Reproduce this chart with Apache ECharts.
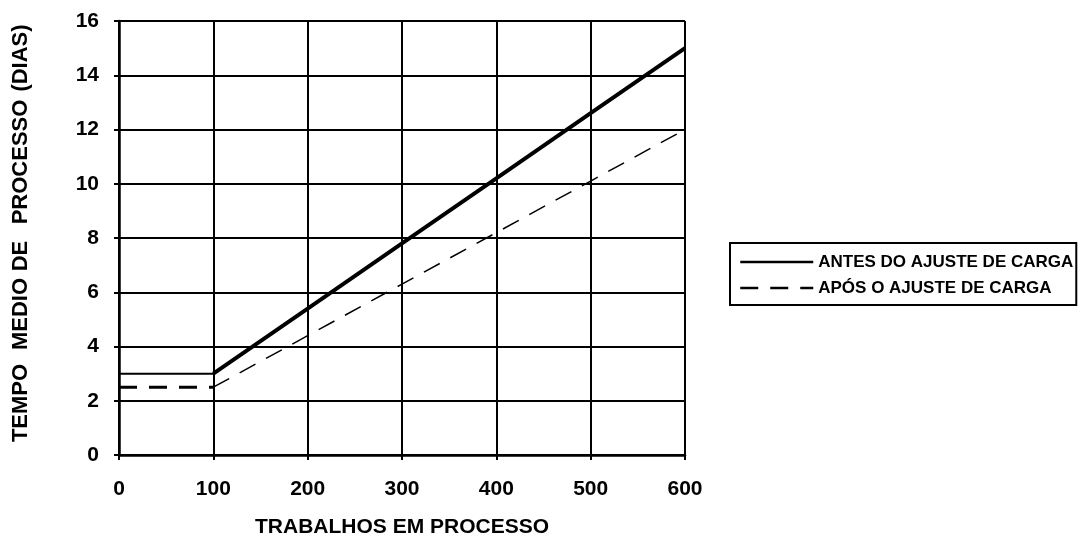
<!DOCTYPE html>
<html>
<head>
<meta charset="utf-8">
<script src="https://cdn.jsdelivr.net/npm/echarts@6/dist/echarts.min.js"></script>
<style>
  html, body { margin: 0; padding: 0; background: #fff; }
  #chart { width: 1081px; height: 541px; }
</style>
</head>
<body>
<div id="chart"></div>
<script>
// Work in process (x) vs. mean processing time in days (y)
const xTicks = [0, 100, 200, 300, 400, 500, 600];
const seriesNames = ['ANTES DO AJUSTE DE CARGA', 'APÓS O AJUSTE DE CARGA'];
// Before load adjustment: flat segment then linear growth
const antesFlat = [[0, 3], [100, 3]];
const antesRise = [[100, 3], [200, 5.4], [300, 7.8], [400, 10.2], [500, 12.6], [600, 15]];
// After load adjustment
const aposFlat = [[0, 2.5], [100, 2.5]];
const aposRise = [[100, 2.5], [200, 4.4], [300, 6.3], [400, 8.2], [500, 10.1], [600, 12]];
// Y-axis title words, drawn bottom to top with their centre positions
const yTitleWords = [['TEMPO', 403], ['MEDIO', 314], ['DE', 256], ['PROCESSO', 162], ['(DIAS)', 58]];
const xTitle = 'TRABALHOS EM PROCESSO';

const chart = echarts.init(document.getElementById('chart'), null, { renderer: 'canvas' });

const tickFont = { fontFamily: '"Liberation Sans", Arial, sans-serif', fontWeight: 'bold', fontSize: 21, color: '#000' };
const titleFont = { fontFamily: '"Liberation Sans", Arial, sans-serif', fontWeight: 'bold', fontSize: 22, fill: '#000' };

function lineSeries(name, data, width, type) {
  return {
    name: name,
    type: 'line',
    data: data,
    symbol: 'none',
    silent: true,
    animation: false,
    lineStyle: { color: '#000', width: width, type: type },
    itemStyle: { color: '#000' }
  };
}

const graphics = yTitleWords.map(([word, cy]) => ({
  type: 'text',
  x: 21, y: cy,
  rotation: Math.PI / 2,
  style: Object.assign({ text: word, align: 'center', verticalAlign: 'middle' }, titleFont)
}));
graphics.push({
  type: 'text',
  x: 402, y: 527,
  style: Object.assign({ text: xTitle, align: 'center', verticalAlign: 'middle' }, titleFont, { fontSize: 21 })
});

chart.setOption({
  backgroundColor: '#fff',
  animation: false,
  grid: { left: 119, right: 396, top: 21, bottom: 86 },
  xAxis: {
    type: 'value',
    min: 0, max: 600, interval: 100,
    axisLine: { show: true, lineStyle: { color: '#000', width: 2.5 } },
    axisTick: { show: true, length: 5, lineStyle: { color: '#000', width: 2 } },
    splitLine: { show: true, lineStyle: { color: '#000', width: 2 } },
    axisLabel: Object.assign({ margin: 24, formatter: v => xTicks.includes(v) ? String(v) : '' }, tickFont)
  },
  yAxis: {
    type: 'value',
    min: 0, max: 16, interval: 2,
    axisLine: { show: true, lineStyle: { color: '#000', width: 2.5 } },
    axisTick: { show: true, length: 5, lineStyle: { color: '#000', width: 2 } },
    splitLine: { show: true, lineStyle: { color: '#000', width: 2 } },
    axisLabel: Object.assign({ margin: 20 }, tickFont)
  },
  legend: {
    show: true,
    orient: 'vertical',
    left: 730, top: 243,
    padding: [9, 3, 7, 9],
    itemGap: 6,
    itemWidth: 73,
    itemHeight: 20,
    borderColor: '#000',
    borderWidth: 2,
    borderRadius: 0,
    data: seriesNames,
    selectedMode: false,
    itemStyle: { color: 'rgba(0,0,0,0)', borderWidth: 0 },
    lineStyle: { width: 2.5 },
    textStyle: { fontFamily: '"Liberation Sans", Arial, sans-serif', fontWeight: 'bold', fontSize: 17, lineHeight: 20, color: '#000' }
  },
  graphic: graphics,
  series: [
    lineSeries(seriesNames[0], antesRise, 4, 'solid'),
    lineSeries(seriesNames[0], antesFlat, 2, 'solid'),
    lineSeries(seriesNames[1], aposFlat, 3, [18, 12]),
    lineSeries(seriesNames[1], aposRise, 1.5, [18, 12])
  ]
});
</script>
</body>
</html>
